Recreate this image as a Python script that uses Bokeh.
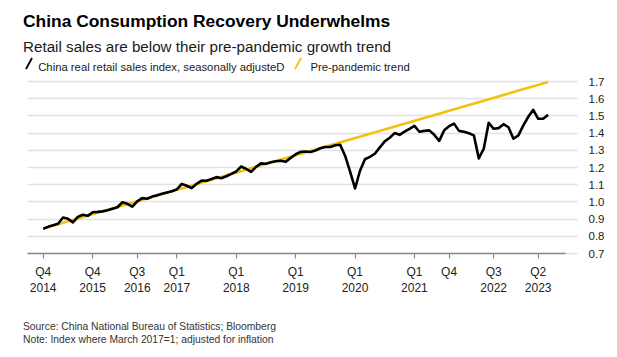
import pandas as pd
from bokeh.plotting import figure
from bokeh.models import Range1d, FixedTicker, PrintfTickFormatter, Label, Arrow
from bokeh.embed import file_html
from bokeh.resources import INLINE

# ---- data ----
months = [str(p) for p in pd.period_range("2014-12", "2023-06", freq="M")]
retail_index = [
    0.844, 0.855, 0.864, 0.873, 0.909, 0.902, 0.881, 0.913, 0.925, 0.919,
    0.940, 0.942, 0.945, 0.951, 0.960, 0.969, 0.998, 0.989, 0.972, 1.003,
    1.022, 1.018, 1.031, 1.038, 1.047, 1.055, 1.062, 1.073, 1.105, 1.094,
    1.080, 1.105, 1.124, 1.123, 1.133, 1.144, 1.138, 1.149, 1.163, 1.177,
    1.206, 1.192, 1.175, 1.204, 1.224, 1.222, 1.230, 1.236, 1.239, 1.233,
    1.256, 1.277, 1.291, 1.293, 1.290, 1.299, 1.312, 1.319, 1.319, 1.329,
    1.332, 1.267, 1.176, 1.078, 1.181, 1.248, 1.262, 1.280, 1.317, 1.352,
    1.373, 1.400, 1.390, 1.408, 1.425, 1.442, 1.408, 1.413, 1.416, 1.390,
    1.355, 1.416, 1.440, 1.455, 1.413, 1.408, 1.399, 1.387, 1.253, 1.309,
    1.460, 1.425, 1.429, 1.452, 1.434, 1.367, 1.387, 1.445, 1.495, 1.535,
    1.483, 1.483, 1.506,
]
trend_months = ["2014-12", "2023-06"]
trend_values = [0.845, 1.697]

tick_months = ["2014-12", "2015-10", "2016-07", "2017-03", "2018-03", "2019-03",
               "2020-03", "2021-03", "2021-10", "2022-07", "2023-04"]
tick_labels = ["Q4\n2014", "Q4\n2015", "Q3\n2016", "Q1\n2017", "Q1\n2018", "Q1\n2019",
               "Q1\n2020", "Q1\n2021", "Q4", "Q3\n2022", "Q2\n2023"]
y_ticks = [0.7, 0.8, 0.9, 1.0, 1.1, 1.2, 1.3, 1.4, 1.5, 1.6, 1.7]

pos = {m: i for i, m in enumerate(months)}
x = [pos[m] for m in months]
tx = [pos[m] for m in trend_months]
ticks = [pos[m] for m in tick_months]

# ---- layout constants (pixel geometry of the reference) ----
W, H = 617, 357
PX_FIRST = 42.7   # pixel x of first month
PPX = 4.95        # px per month
PY_BASE = 253.0   # pixel y of 0.7
PPY = 172.0       # px per index unit
FL, FR, AXR = 27, 577, 565  # plot left, grid right, axis-line right

def dx(px):
    return (px - PX_FIRST) / PPX

def dy(py):
    return 0.7 + (PY_BASE - py) / PPY

FONT = "Liberation Sans"

p = figure(width=W, height=H, output_backend="svg", toolbar_location=None,
           x_range=Range1d(dx(0), dx(W)), y_range=Range1d(dy(H), dy(0)),
           y_axis_location="right", min_border=0)
p.outline_line_color = None
p.background_fill_color = "white"
p.border_fill_color = "white"

p.xgrid.grid_line_color = None
p.ygrid.grid_line_color = "#e2e2e2"
p.ygrid.grid_line_width = 1.5
p.ygrid.ticker = FixedTicker(ticks=y_ticks)
p.ygrid.cross_bounds = (dx(FL), dx(FR))

xa = p.xaxis[0]
xa.fixed_location = 0.7
xa.ticker = FixedTicker(ticks=ticks)
xa.major_label_overrides = {t: l for t, l in zip(ticks, tick_labels)}
xa.bounds = (dx(FL), dx(AXR))
xa.axis_line_color = "#8a8a8a"
xa.axis_line_width = 1.5
xa.major_tick_line_color = "#8a8a8a"
xa.major_tick_line_width = 1.2
xa.major_tick_out = 5
xa.major_tick_in = 0
xa.minor_tick_line_color = None
xa.major_label_standoff = 6
xa.major_label_text_font = FONT
xa.major_label_text_font_size = "12px"
xa.major_label_text_color = "#222222"

ya = p.yaxis[0]
ya.fixed_location = dx(FR)
ya.ticker = FixedTicker(ticks=y_ticks)
ya.bounds = (0.7, 1.7)
ya.formatter = PrintfTickFormatter(format="%.1f")
ya.axis_line_color = None
ya.major_tick_line_color = None
ya.minor_tick_line_color = None
ya.major_label_standoff = 5
ya.major_label_text_font = FONT
ya.major_label_text_font_size = "11.5px"
ya.major_label_text_color = "#222222"

YELLOW = "#f4c20d"
p.line(tx, trend_values, line_color=YELLOW, line_width=2.6)
p.line(x, retail_index, line_color="black", line_width=2.6, line_join="round")

# ---- titles, legend, notes ----
def label(px, py, text, size, color="#111111", style="normal"):
    p.add_layout(Label(x=dx(px), y=dy(py), text=text, text_font=FONT,
                       text_font_size=size, text_color=color, text_font_style=style,
                       text_baseline="alphabetic", text_align="left"))

label(22.5, 20.8, "China Consumption Recovery Underwhelms", "17.4px", "#000000", "bold")
label(22.5, 45.5, "Retail sales are below their pre-pandemic growth trend", "15.2px", "#1a1a1a")
p.add_layout(Arrow(end=None, x_start=dx(25.5), y_start=dy(68.5), x_end=dx(31.5), y_end=dy(57.5),
                   line_color="black", line_width=1.8))
label(37.7, 66.8, "China real retail sales index, seasonally adjusteD", "11.3px", "#1a1a1a")
p.add_layout(Arrow(end=None, x_start=dx(294.5), y_start=dy(68.5), x_end=dx(300.5), y_end=dy(57.5),
                   line_color=YELLOW, line_width=1.8))
label(310, 66.8, "Pre-pandemic trend", "11.3px", "#1a1a1a")
label(22.5, 326.2, "Source: China National Bureau of Statistics; Bloomberg", "10.3px", "#333333")
label(22.5, 339.2, "Note: Index where March 2017=1; adjusted for inflation", "10.3px", "#333333")

open("out.html", "w").write(file_html(p, INLINE))
